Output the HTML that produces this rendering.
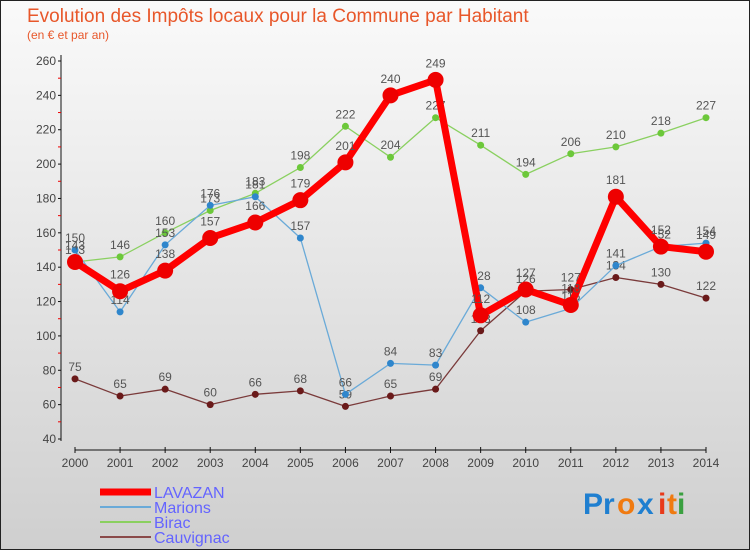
<!DOCTYPE html>
<html><head><meta charset="utf-8"><style>
body{margin:0}
svg text{font-family:"Liberation Sans",sans-serif}
</style></head><body>
<svg width="750" height="550" xmlns="http://www.w3.org/2000/svg">
<defs><linearGradient id="bg" x1="0" y1="0" x2="0" y2="1"><stop offset="0" stop-color="#fafafa"/><stop offset="1" stop-color="#cfcfcf"/></linearGradient></defs>
<rect x="0.5" y="0.5" width="749" height="549" fill="url(#bg)" stroke="#222"/>
<text x="27" y="22" font-size="19" fill="#e8572a">Evolution des Impôts locaux pour la Commune par Habitant</text>
<text x="27" y="39" font-size="12" fill="#e8572a">(en € et par an)</text>
<g id="axes"></g><g id="series"></g><g id="legend"></g>
<g font-size="30" font-weight="bold">
<text x="583" y="514" fill="#1f7fd0">Pr</text><text x="617" y="514" fill="#f07a10">o</text><text x="637" y="514" fill="#1f7fd0">x</text><text x="658" y="514" fill="#e83a1a">i</text><text x="667" y="514" fill="#f07a10">t</text><text x="677" y="514" fill="#3aa040">i</text>
</g>
</svg>
<script>
const years=[2000,2001,2002,2003,2004,2005,2006,2007,2008,2009,2010,2011,2012,2013,2014];
const lavazan=[143,126,138,157,166,179,201,240,249,112,127,118,181,152,149];
const marions=[150,114,153,176,181,157,66,84,83,128,108,116,141,152,154];
const birac=[143,146,160,173,183,198,222,204,227,211,194,206,210,218,227];
const cauvignac=[75,65,69,60,66,68,59,65,69,103,126,127,134,130,122];
const yTicks=[40,60,80,100,120,140,160,180,200,220,240,260];
const NS="http://www.w3.org/2000/svg";
const X=i=>75+i*(706-75)/(years.length-1);
const Y=v=>439-(v-40)*(439-61)/220;
function mk(tag,attrs,parent,txt){const e=document.createElementNS(NS,tag);for(const k in attrs)e.setAttribute(k,attrs[k]);if(txt!==undefined)e.textContent=txt;parent.appendChild(e);return e;}
const ax=document.getElementById('axes');
let e=mk('line',{x1:61,y1:55,x2:61,y2:441,stroke:'#111'},ax);


yTicks.forEach((t,i)=>{
 mk('line',{x1:58,y1:Y(t),x2:61,y2:Y(t),stroke:'#111'},ax);
 if(i<yTicks.length-1)mk('line',{x1:58,y1:Y(t+10),x2:61,y2:Y(t+10),stroke:'#e00'},ax);
 const l=mk('text',{x:56,y:Y(t)+4,'font-size':12,fill:'#444','text-anchor':'end'},ax,t);
 
 
});
e=mk('line',{x1:75,y1:450,x2:706,y2:450,stroke:'#111'},ax);


years.forEach((y,i)=>{
 mk('line',{x1:X(i),y1:447,x2:X(i),y2:453,stroke:'#111'},ax);
 const l=mk('text',{x:X(i),y:467,'font-size':12,fill:'#444','text-anchor':'middle'},ax,y);
 
 
});
const sg=document.getElementById('series');
const defs=[
 {name:'cauvignac',data:cauvignac,c:'#7a3a3a',dot:'#6a1a1a',w:1.3,r:3.5},
 {name:'birac',data:birac,c:'#8ad060',dot:'#6cc83a',w:1.3,r:3.5},
 {name:'marions',data:marions,c:'#6aaad8',dot:'#2f86cc',w:1.3,r:3.5},
 {name:'lavazan',data:lavazan,c:'#f00',dot:'#e00',w:7,r:8}
];
defs.forEach(s=>{
 const g=mk('g',{},sg);
 
 
 const p=mk('polyline',{points:s.data.map((v,i)=>X(i)+','+Y(v)).join(' '),fill:'none',stroke:s.c,'stroke-width':s.w,'stroke-linejoin':'round'},g);
 
 
 s.data.forEach((v,i)=>{
  const c=mk('circle',{cx:X(i),cy:Y(v),r:s.r,fill:s.dot},g);
  
  
  const t=mk('text',{x:X(i),y:Y(v)-8-(s.r-3.5),'font-size':12,fill:'#555','text-anchor':'middle'},g,v);
  
  
 });
});
const lg=document.getElementById('legend');
[['LAVAZAN','#f00',7],['Marions','#6aaad8',2],['Birac','#8ad060',2],['Cauvignac','#8a4a4a',2]].forEach((it,i)=>{
 const y=492+i*15;
 const g=mk('g',{},lg);
 
 
 mk('line',{x1:100,y1:y,x2:151,y2:y,stroke:it[1],'stroke-width':it[2]},g);
 mk('text',{x:154,y:y+6,'font-size':16,fill:'#6464ff'},g,it[0]);
});
</script>
</body></html>
